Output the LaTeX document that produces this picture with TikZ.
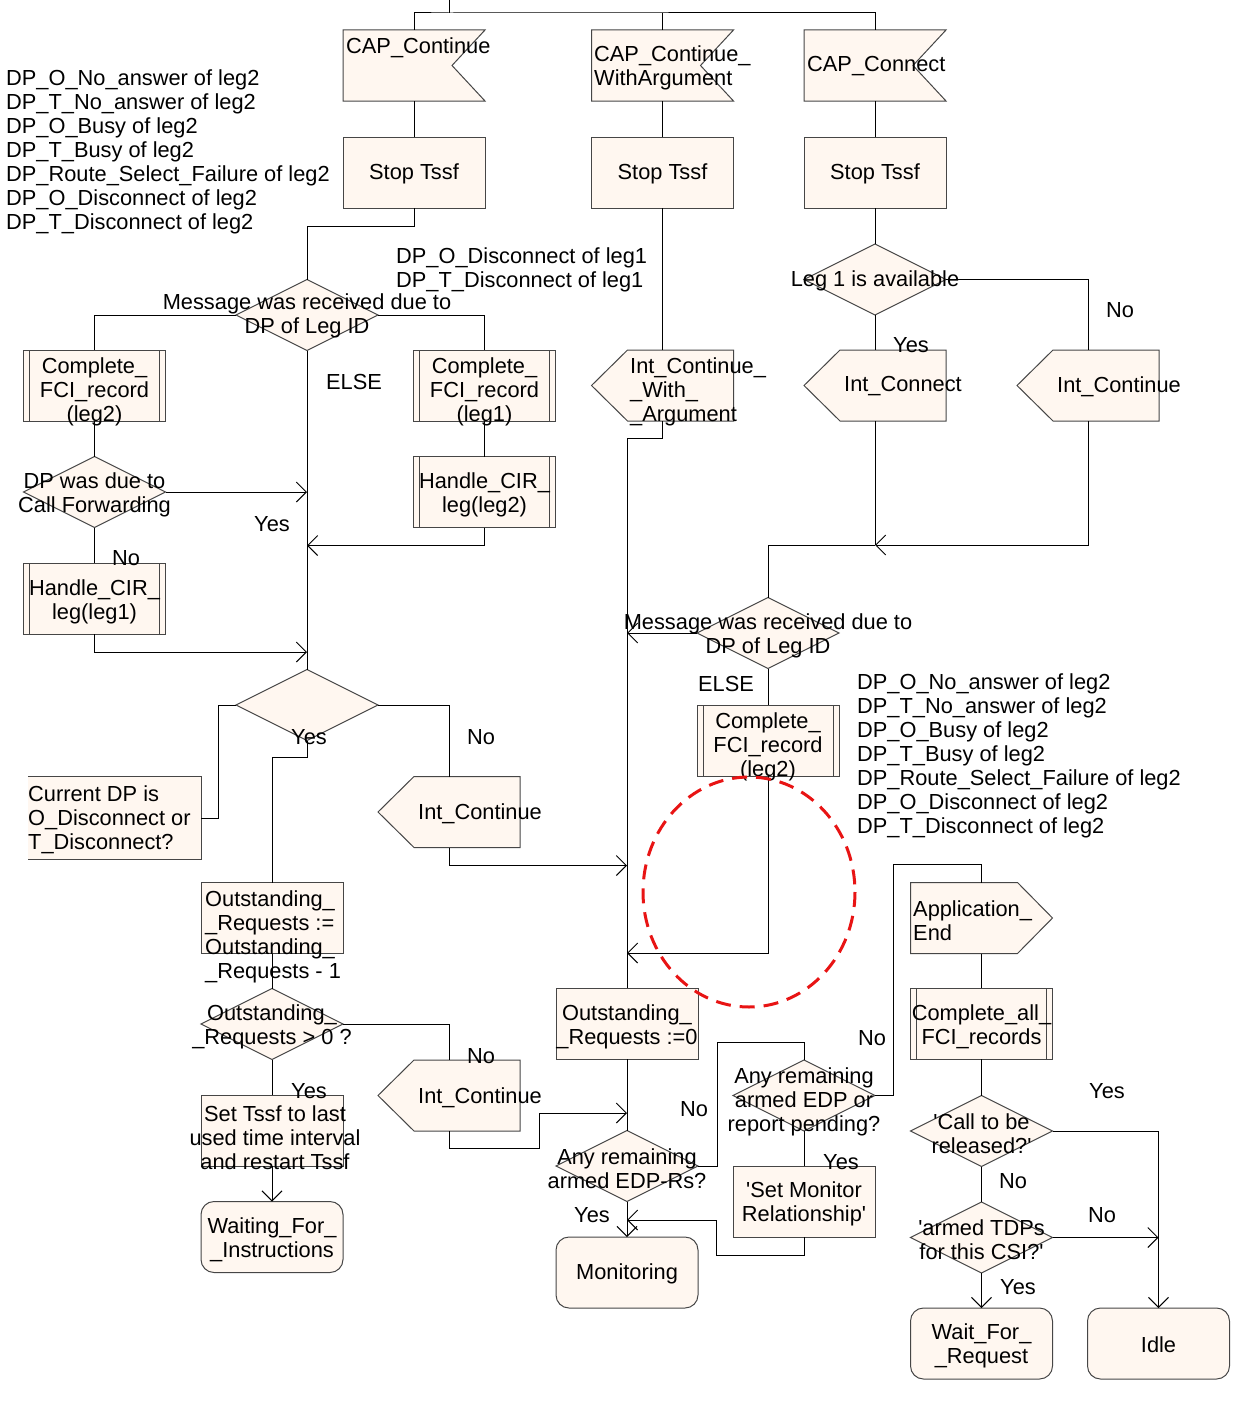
\documentclass[tikz,border=0pt]{standalone}
\usepackage{fontspec}
\setmainfont{Liberation Sans}[Ligatures=TeXOff]
\usetikzlibrary{shapes.geometric,arrows.meta}
\definecolor{fillc}{RGB}{255,247,240}
\definecolor{edgec}{RGB}{70,70,70}
\definecolor{redc}{RGB}{232,20,20}
\newcommand\fsz{\fontsize{21.8}{24}\selectfont}
\newcommand\drawOutL[1]{\filldraw[edgec, fill=fillc, line width=1pt] ([xshift=36pt]#1.north west) -- (#1.north east) -- (#1.south east) -- ([xshift=36pt]#1.south west) -- (#1.west) -- cycle;}
\newcommand\drawOutR[1]{\filldraw[edgec, fill=fillc, line width=1pt] (#1.north west) -- ([xshift=-35pt]#1.north east) -- (#1.east) -- ([xshift=-35pt]#1.south east) -- (#1.south west) -- cycle;}
\newcommand\drawInp[1]{\filldraw[edgec, fill=fillc, line width=1pt] (#1.north west) -- (#1.north east) -- ([xshift=-33pt]#1.east) -- (#1.south east) -- (#1.south west) -- cycle;}
\begin{document}
\begin{tikzpicture}[x=1pt,y=-1pt,
  base/.style={draw=edgec, fill=fillc, line width=1pt, inner sep=0pt, outer sep=0pt},
  taskbox/.style={base, rectangle, minimum width=142pt, minimum height=71pt},
  procbox/.style={taskbox, path picture={
     \draw[edgec, line width=1pt] ([xshift=6pt]path picture bounding box.north west) -- ([xshift=6pt]path picture bounding box.south west);
     \draw[edgec, line width=1pt] ([xshift=-6pt]path picture bounding box.north east) -- ([xshift=-6pt]path picture bounding box.south east);}},
  statebox/.style={taskbox, rounded corners=13pt},
  decbox/.style={base, diamond, minimum width=142pt, minimum height=71pt},
  sigbox/.style={rectangle, draw=none, fill=none, inner sep=0pt, outer sep=0pt, minimum width=142pt, minimum height=71pt},
  txt/.style={font=\fsz, align=center, inner sep=0pt, yshift=-1.5pt},
  ltxt/.style={font=\fsz, align=left, inner sep=0pt, anchor=west, yshift=-1.5pt},
  conn/.style={draw=black, line width=1pt},
  arr/.style={conn, -{Straight Barb[length=10pt,width=20pt,line width=1pt]}},
]
\useasboundingbox (0,0) rectangle (1234,1405);

% ---------- shapes ----------
% column 1
\node[sigbox] (cc1) at (414,65.5) {}; \drawInp{cc1}
\node[taskbox] (st1) at (414,172.5) {};
\node[decbox] (d1) at (307,315) {};
\node[procbox] (cf1) at (94.5,385.5) {};
\node[procbox] (cf2) at (484.5,385.5) {};
\node[decbox] (d2) at (94.5,492) {};
\node[procbox] (hc1) at (94.5,598.5) {};
\node[procbox] (hc2) at (484.5,492) {};
\node[decbox] (d3) at (307,705) {};
\node[fill=fillc, draw=none, inner sep=0pt, minimum width=173pt, minimum height=82pt] (cm) at (114.5,818) {};
\draw[edgec, line width=1pt] (cm.north west) -- (cm.north east) -- (cm.south east) -- (cm.south west);
\node[sigbox] (ic1) at (449,812) {}; \drawOutL{ic1}
\node[taskbox] (os1) at (272,918) {};
\node[decbox] (d4) at (272,1024) {};
\node[sigbox] (ic2) at (449,1095.5) {}; \drawOutL{ic2}
\node[taskbox] (ts) at (272,1130.5) {};
\node[statebox] (wfi) at (272,1237) {};
% column 2
\node[sigbox] (cc2) at (662.5,65.5) {}; \drawInp{cc2}
\node[taskbox] (st2) at (662.5,172.5) {};
\node[sigbox] (icw) at (662.5,385.5) {}; \drawOutL{icw}
\node[taskbox] (or0) at (627,1023.5) {};
\node[decbox] (d6) at (627,1166) {};
\node[statebox] (mon) at (627,1272.5) {};
% column 3
\node[sigbox] (cc3) at (875,65.5) {}; \drawInp{cc3}
\node[taskbox] (st3) at (875,172.5) {};
\node[decbox] (dl) at (875,279.5) {};
\node[sigbox] (icn) at (875,385.5) {}; \drawOutL{icn}
\node[sigbox] (ict) at (1088,385.5) {}; \drawOutL{ict}
\node[decbox] (d5) at (768,633) {};
\node[procbox] (cf3) at (768,740.5) {};
\node[decbox] (d7) at (804,1095.5) {};
\node[taskbox] (smr) at (804,1201.5) {};
\node[sigbox] (ae) at (981.5,918) {}; \drawOutR{ae}
\node[procbox] (caf) at (981.5,1023.5) {};
\node[decbox] (dc) at (981.5,1131) {};
\node[decbox] (dt) at (981.5,1237.5) {};
\node[statebox] (wfr) at (981.5,1343.5) {};
\node[statebox] (idle) at (1158.5,1343.5) {};

% ---------- connectors ----------
\coordinate (src) at (449,0);
\draw[conn] (src) -- ++(0,13) coordinate (bus);
\draw[conn] (cc1.north) |- (bus) -| (cc3.north);
\draw[conn] (cc2.north) -- (cc2.north |- bus);
\draw[conn] (cc1.south) -- (st1.north);
\draw[conn] (cc2.south) -- (st2.north);
\draw[conn] (cc3.south) -- (st3.north);
% left
\draw[conn] (st1.south) -- ++(0,18) -| (d1.north);
\draw[conn] (d1.west) -| (cf1.north);
\draw[conn] (d1.east) -| (cf2.north);
\draw[conn] (d1.south) -- (d3.north);
\draw[conn] (cf1.south) -- (d2.north);
\draw[arr] (d2.east) -- (d2.east -| d1.south);
\draw[conn] (d2.south) -- (hc1.north);
\draw[arr] (hc1.south) -- ++(0,18) coordinate (q1) -- (q1 -| d1.south);
\draw[conn] (cf2.south) -- (hc2.north);
\draw[arr] (hc2.south) -- ++(0,18) coordinate (q2) -- (q2 -| d1.south);
\draw[conn] (cm.east) -- ++(17,0) |- (d3.west);
\draw[conn] (d3.south) -- ++(0,17) -| (os1.north);
\draw[conn] (d3.east) -| (ic1.north);
\draw[arr] (ic1.south) -- ++(0,18) coordinate (q3) -- (q3 -| or0.north);
\draw[conn] (os1.south) -- (d4.north);
\draw[conn] (d4.east) -| (ic2.north);
\draw[conn] (d4.south) -- (ts.north);
\draw[arr] (ts.south) -- (wfi.north);
\draw[arr] (ic2.south) -- ++(0,17) -| ++(90,-35) coordinate (q4) -- (q4 -| or0.north);
% middle
\draw[conn] (st2.south) -- (icw.north);
\draw[conn] (icw.south) -- ++(0,17) -| (or0.north);
\draw[conn] (or0.south) -- (d6.north);
\draw[arr] (d6.south) -- (mon.north);
\draw[conn] (d6.east) -- ++(19,0) |- ([yshift=18pt]d7.north) -- (d7.north);
\draw[conn] (d7.south) -- (smr.north);
\draw[arr] (smr.south) -- ++(0,18) -| ++(-88,-35) coordinate (q5) -- (q5 -| mon.north);
\draw[conn] (d7.east) -- ++(18,0) |- ([yshift=18pt]ae.north) -- (ae.north);
% right
\draw[conn] (st3.south) -- (dl.north);
\draw[conn] (dl.east) -| (ict.north);
\draw[conn] (dl.south) -- (icn.north);
\draw[conn] (icn.south) -- ++(0,124) coordinate (j);
\draw[arr] (ict.south) |- (j);
\draw[conn] (j) -| (d5.north);
\draw[arr] (d5.west) -- (d5.west -| or0.north);
\draw[conn] (d5.south) -- (cf3.north);
\draw[arr] (cf3.south) -- ++(0,177) coordinate (q6) -- (q6 -| or0.north);
\draw[conn] (ae.south) -- (caf.north);
\draw[conn] (caf.south) -- (dc.north);
\draw[arr] (dc.east) -| (idle.north);
\draw[conn] (dc.south) -- (dt.north);
\draw[arr] (dt.east) -- (dt.east -| idle.north);
\draw[arr] (dt.south) -- (wfr.north);

% ---------- texts ----------
\node[ltxt] (tl) at (6,150) {DP\_O\_No\_answer of leg2\\DP\_T\_No\_answer of leg2\\DP\_O\_Busy of leg2\\DP\_T\_Busy of leg2\\DP\_Route\_Select\_Failure of leg2\\DP\_O\_Disconnect of leg2\\DP\_T\_Disconnect of leg2};
\node[ltxt] (tcc1) at (346,46) {CAP\_Continue};
\node[ltxt] (tcc2) at (594,66) {CAP\_Continue\_\\WithArgument};
\node[ltxt] (tcc3) at (807,65) {CAP\_Connect};
\node[txt] (tst1) at (st1) {Stop Tssf};
\node[txt] (tst2) at (st2) {Stop Tssf};
\node[txt] (tst3) at (st3) {Stop Tssf};
\node[ltxt] (tleg1) at (396,268) {DP\_O\_Disconnect of leg1\\DP\_T\_Disconnect of leg1};
\node[txt] (td1) at (307,314) {Message was received due to\\DP of Leg ID};
\node[txt] (telse1) at (354,380) {ELSE};
\node[txt] (tcf1) at (94.5,390) {Complete\_\\FCI\_record\\(leg2)};
\node[txt] (tcf2) at (484.5,390) {Complete\_\\FCI\_record\\(leg1)};
\node[txt] (td2) at (94.5,493) {DP was due to\\Call Forwarding};
\node[txt] (tyes1) at (272,523) {Yes};
\node[txt] (tno1) at (126,557) {No};
\node[txt] (thc1) at (94.5,600) {Handle\_CIR\_\\leg(leg1)};
\node[txt] (thc2) at (484.5,493) {Handle\_CIR\_\\leg(leg2)};
\node[txt] (tyes2) at (309,736) {Yes};
\node[txt] (tno2) at (481,736) {No};
\node[ltxt] (tcm) at (28,818) {Current DP is\\O\_Disconnect or\\T\_Disconnect?};
\node[txt] (tic1) at (480,812) {Int\_Continue};
\node[ltxt] (tos1) at (205,935) {Outstanding\_\\\_Requests :=\\Outstanding\_\\\_Requests - 1};
\node[txt] (td4) at (272,1025) {Outstanding\_\\\_Requests > 0 ?};
\node[txt] (tno3) at (481,1055) {No};
\node[txt] (tic2) at (480,1096) {Int\_Continue};
\node[txt] (tyes3) at (309,1090) {Yes};
\node[txt] (tts) at (275,1136) {Set Tssf to last\\used time interval\\and restart Tssf};
\node[txt] (twfi) at (272,1238) {Waiting\_For\_\\\_Instructions};
\node[ltxt] (ticw) at (630,390) {Int\_Continue\_\\\_With\_\\\_Argument};
\node[txt] (tdl) at (875,279) {Leg 1 is available};
\node[txt] (tno4) at (1120,309) {No};
\node[txt] (tyes4) at (911,344) {Yes};
\node[txt] (ticn) at (903,385) {Int\_Connect};
\node[txt] (tict) at (1119,385) {Int\_Continue};
\node[txt] (td5) at (768,634) {Message was received due to\\DP of Leg ID};
\node[txt] (telse2) at (726,682) {ELSE};
\node[txt] (tcf3) at (768,745) {Complete\_\\FCI\_record\\(leg2)};
\node[ltxt] (tr) at (857,754) {DP\_O\_No\_answer of leg2\\DP\_T\_No\_answer of leg2\\DP\_O\_Busy of leg2\\DP\_T\_Busy of leg2\\DP\_Route\_Select\_Failure of leg2\\DP\_O\_Disconnect of leg2\\DP\_T\_Disconnect of leg2};
\node[txt] (tor0) at (627,1025) {Outstanding\_\\\_Requests :=0};
\node[txt] (td6) at (627,1167) {Any remaining\\armed EDP-Rs?};
\node[txt] (tyes5) at (592,1214) {Yes};
\node[txt] (tno5) at (694,1108) {No};
\node[txt] (tmon) at (627,1272) {Monitoring};
\node[txt] (td7) at (804,1100) {Any remaining\\armed EDP or\\report pending?};
\node[txt] (tno6) at (872,1037) {No};
\node[txt] (tyes6) at (841,1161) {Yes};
\node[txt] (tsmr) at (804,1202) {'Set Monitor\\Relationship'};
\node[ltxt] (tae) at (913,919) {Application\_\\End};
\node[txt] (tcaf) at (981.5,1025) {Complete\_all\_\\FCI\_records};
\node[txt] (tdc) at (981.5,1132) {'Call to be\\released?'};
\node[txt] (tyes7) at (1107,1090) {Yes};
\node[txt] (tno7) at (1013,1180) {No};
\node[txt] (tdt) at (981.5,1238) {'armed TDPs\\for this CSI?'};
\node[txt] (tno8) at (1102,1214) {No};
\node[txt] (tyes8) at (1018,1286) {Yes};
\node[txt] (twfr) at (981.5,1344) {Wait\_For\_\\\_Request};
\node[txt] (tidle) at (1158.5,1343) {Idle};

% ---------- highlight ----------
\draw[redc, line width=3pt, dash pattern=on 15pt off 9pt] (749,892) ellipse [x radius=106, y radius=115];
\end{tikzpicture}
\end{document}
